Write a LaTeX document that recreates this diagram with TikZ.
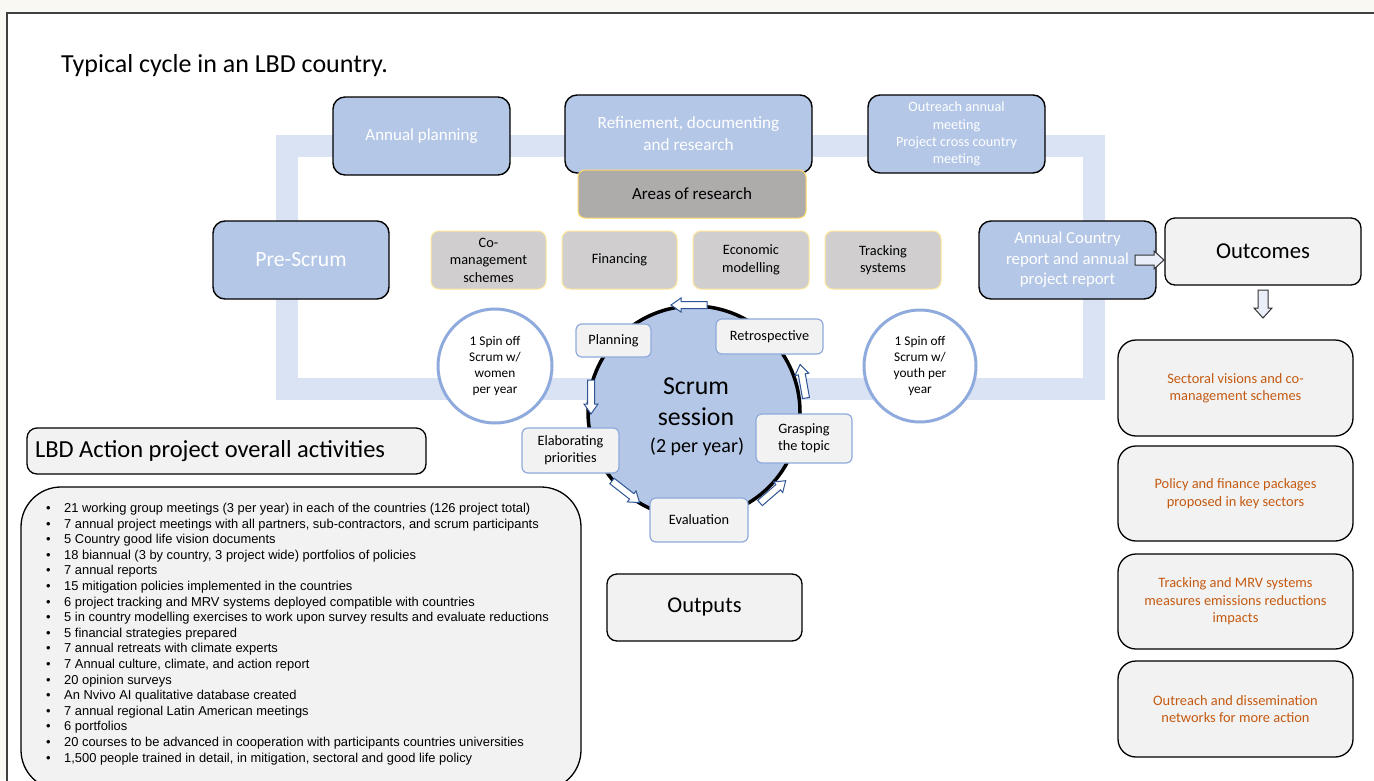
\documentclass[tikz,border=0pt]{standalone}
\usepackage{fontspec}
\setmainfont{Carlito}
\newfontfamily\arialf{Liberation Sans}
\definecolor{bgcream}{HTML}{FAF8F2}
\definecolor{framecol}{HTML}{404040}
\definecolor{boxblue}{HTML}{B4C7E7}
\definecolor{bandcol}{HTML}{DAE3F3}
\definecolor{lgray}{HTML}{F2F2F2}
\definecolor{areagray}{HTML}{AEABAB}
\definecolor{smallgray}{HTML}{D0CECE}
\definecolor{yellowb}{HTML}{FFD966}
\definecolor{yellowl}{HTML}{FFE699}
\definecolor{lblue}{HTML}{8FAADC}
\definecolor{dblue}{HTML}{2F5597}
\definecolor{orangetxt}{HTML}{C55A11}
\newcommand{\fs}[2]{\fontsize{#1}{#2}\selectfont}
\newcommand{\blockarr}[8]{% x y angle length shaft-half head-half head-length style
  \begin{scope}[shift={(#1,#2)}, rotate=#3]
    \draw[#8] (0,-#5) -- ({#4-#7},-#5) -- ({#4-#7},-#6) -- (#4,0) -- ({#4-#7},#6) -- ({#4-#7},#5) -- (0,#5) -- cycle;
  \end{scope}}
\begin{document}
\begin{tikzpicture}[x=1pt,y=-1pt,
  bluebox/.style={draw=black, line width=1.4pt, fill=boxblue, rounded corners=12pt, text=white, align=center, inner sep=2pt},
  areabox/.style={draw=yellowb, line width=1pt, fill=areagray, rounded corners=7pt, align=center, inner sep=2pt},
  topicbox/.style={draw=yellowl, line width=1pt, fill=smallgray, rounded corners=8pt, align=center, inner sep=2pt, font=\fs{14.3}{17.5}},
  graybox/.style={draw=black, line width=1.3pt, fill=lgray, rounded corners=10pt, align=center, inner sep=2pt},
  outcomebox/.style={draw=black, line width=1.3pt, fill=lgray, rounded corners=18pt, align=center, inner sep=2pt, text=orangetxt, font=\fs{14.4}{17.5}, minimum width=235pt},
  stepbox/.style={draw=lblue, line width=1.2pt, fill=lgray, rounded corners=6pt, align=center, inner sep=2pt, font=\fs{14.3}{17}},
  spinc/.style={circle, draw=lblue, line width=3pt, fill=white, align=center, inner sep=0pt, font=\fs{13.3}{16}},
  scrumtext/.style={anchor=base, inner sep=0pt},
  smallarr/.style={draw=dblue, line width=1pt, fill=white},
  bigarr/.style={draw=black!80, line width=1pt, fill=bandcol!60}
]
\useasboundingbox (0,0) rectangle (1374,780);
\fill[bgcream] (0,0) rectangle (1374,780);
\draw[framecol, line width=1.8pt, fill=white] (7,13) rectangle (1400,800);
% loop band
\draw[bandcol, line width=22pt, line join=miter] (287,146) rectangle (1094,389);
% title
\node[anchor=west, inner sep=0pt, font=\fs{26}{30}] (title) at (61,66) {Typical cycle in an LBD country.};
% blue boxes
\node[bluebox, minimum width=177pt, minimum height=78pt, font=\fs{17}{21}] (annual) at (421.5,136) {Annual planning};
\node[bluebox, minimum width=247pt, minimum height=78pt, font=\fs{17.2}{22}] (refine) at (688.5,134) {Refinement, documenting\\and research};
\node[bluebox, minimum width=177pt, minimum height=78pt, font=\fs{14.2}{17.3}] (outreach) at (956.5,134) {Outreach annual\\meeting\\Project cross country\\meeting};
\node[bluebox, minimum width=176pt, minimum height=78pt, font=\fs{21.7}{25}] (prescrum) at (301,260) {Pre-Scrum};
\node[bluebox, minimum width=177pt, minimum height=78pt, font=\fs{16.8}{20.5}] (country) at (1067.5,260) {Annual Country\\report and annual\\project report};
% areas
\node[areabox, minimum width=228pt, minimum height=48pt, font=\fs{17}{20}] (areas) at (692,194) {Areas of research};
\node[topicbox, minimum width=115pt, minimum height=58pt] (comgmt) at (488.5,260) {Co-\\management\\schemes};
\node[topicbox, minimum width=115pt, minimum height=58pt] (fin) at (619.5,260) {Financing};
\node[topicbox, minimum width=116pt, minimum height=58pt] (eco) at (751,260) {Economic\\modelling};
\node[topicbox, minimum width=116pt, minimum height=58pt] (track) at (883,260) {Tracking\\systems};
% outcomes
\node[graybox, minimum width=196pt, minimum height=67pt, font=\fs{22.7}{26}] (outcomes) at (1263,251.5) {Outcomes};
\node[outcomebox, minimum height=96pt] (oc1) at (1235.5,388) {Sectoral visions and co-\\management schemes};
\node[outcomebox, minimum height=95pt] (oc2) at (1235.5,493.5) {Policy and finance packages\\proposed in key sectors};
\node[outcomebox, minimum height=95pt] (oc3) at (1235.5,601.5) {Tracking and MRV systems\\measures emissions reductions\\impacts};
\node[outcomebox, minimum height=96pt] (oc4) at (1235.5,709) {Outreach and dissemination\\networks for more action};
% spin-off circles
\node[spinc, minimum size=114pt] (spin1) at (495,366) {1 Spin off\\Scrum w/\\women\\per year};
\node[spinc, minimum size=112pt] (spin2) at (920,366) {1 Spin off\\Scrum w/\\youth per\\year};
% scrum circle
\node[circle, draw=black, line width=3.5pt, fill=boxblue, minimum size=212pt] (scrum) at (694,412) {};
\node[scrumtext, font=\fs{25.8}{30}] (scrumA) at (696,394) {Scrum};
\node[scrumtext, font=\fs{25.8}{30}] (scrumB) at (696,425) {session};
\node[scrumtext, font=\fs{20}{24}] (scrumC) at (697,452) {(2 per year)};
% steps
\node[stepbox, minimum width=75pt, minimum height=33pt] (planning) at (613.5,340.5) {Planning};
\node[stepbox, minimum width=107pt, minimum height=35pt] (retro) at (769.5,336.5) {Retrospective};
\node[stepbox, minimum width=96pt, minimum height=49pt] (grasp) at (804,438.5) {Grasping\\the topic};
\node[stepbox, minimum width=98pt, minimum height=44pt] (eval) at (699,520) {Evaluation};
\node[stepbox, minimum width=97pt, minimum height=45pt] (elab) at (570.5,450.5) {Elaborating\\priorities};
% small arrows round the scrum circle
\blockarr{707}{305}{180}{36}{3.5}{7}{10}{smallarr}
\blockarr{591}{380}{-90}{34}{3.5}{7}{10}{smallarr}
\blockarr{612}{481}{-38}{35}{3.5}{7}{10}{smallarr}
\blockarr{760}{503}{41}{34}{3.5}{7}{10}{smallarr}
\blockarr{806}{398}{100}{34}{3.5}{7}{10}{smallarr}
% big arrows
\blockarr{1135}{260}{0}{29}{5}{9}{10}{bigarr}
\blockarr{1263}{290}{-90}{28}{5}{9}{10}{bigarr}
% activities
\node[graybox, minimum width=399pt, minimum height=46pt, font=\fs{24.5}{28}] (lbd) at (226.5,451) {\makebox[383pt][l]{LBD Action project overall activities}};
\draw[black, line width=1.3pt, fill=lgray, rounded corners=40pt] (21,487) rectangle (581,790);
\node[anchor=north west, align=left, inner sep=0pt, font=\arialf\fs{12.9}{15.6}] (list) at (46,503) {%
\makebox[18pt][l]{•}21 working group meetings (3 per year) in each of the countries (126 project total)\\
\makebox[18pt][l]{•}7 annual project meetings with all partners, sub-contractors, and scrum participants\\
\makebox[18pt][l]{•}5 Country good life vision documents\\
\makebox[18pt][l]{•}18 biannual (3 by country, 3 project wide) portfolios of policies\\
\makebox[18pt][l]{•}7 annual reports\\
\makebox[18pt][l]{•}15 mitigation policies implemented in the countries\\
\makebox[18pt][l]{•}6 project tracking and MRV systems deployed compatible with countries\\
\makebox[18pt][l]{•}5 in country modelling exercises to work upon survey results and evaluate reductions\\
\makebox[18pt][l]{•}5 financial strategies prepared\\
\makebox[18pt][l]{•}7 annual retreats with climate experts\\
\makebox[18pt][l]{•}7 Annual culture, climate, and action report\\
\makebox[18pt][l]{•}20 opinion surveys\\
\makebox[18pt][l]{•}An Nvivo AI qualitative database created\\
\makebox[18pt][l]{•}7 annual regional Latin American meetings\\
\makebox[18pt][l]{•}6 portfolios\\
\makebox[18pt][l]{•}20 courses to be advanced in cooperation with participants countries universities\\
\makebox[18pt][l]{•}1,500 people trained in detail, in mitigation, sectoral and good life policy};
% outputs
\node[graybox, minimum width=195pt, minimum height=67pt, font=\fs{22.5}{26}] (outputs) at (704.5,607.5) {Outputs};
\end{tikzpicture}
\end{document}
